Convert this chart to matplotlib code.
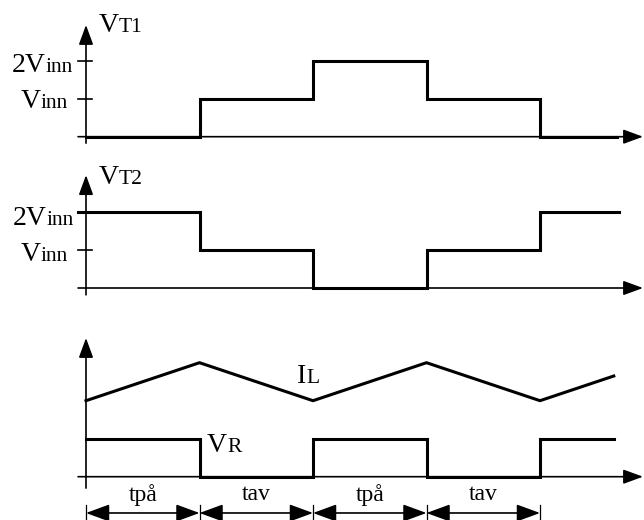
import matplotlib
matplotlib.use("Agg")
import matplotlib.pyplot as plt
import matplotlib.transforms as mtransforms

# waveform data (time in switching periods, levels in units of Vinn)
vt1_t = [0, 1, 2, 3, 4, 4.68]
vt1_v = [0, 1, 2, 1, 0, 0]

vt2_t = [-0.07, 1, 2, 3, 4, 4.70]
vt2_v = [2, 1, 0, 1, 2, 2]

il_t = [0, 1, 2, 3, 4, 4.65]
il_v = [2, 3, 2, 3, 2, 2.65]

vr_t = [0, 1, 2, 3, 4, 4.65]
vr_v = [1, 0, 1, 0, 1, 1]

interval_edges = [0, 1, 2, 3, 4]
interval_labels = ["tpå", "tav", "tpå", "tav"]
level_ticks = [1, 2]

W, H, DPI = 644, 520, 100
X0, DX = 86, 113.5    # pixel of t=0, pixels per period
DY = 38               # pixels per level unit
FONT = "Liberation Serif"
BIG, SMALL = 20, 15.5

fig = plt.figure(figsize=(W / DPI, H / DPI), dpi=DPI)
renderer = fig.canvas.get_renderer()


def make_panel(base_px):
    ax = fig.add_axes([0, 0, 1, 1])
    ax.set_xlim(-X0 / DX, (W - X0) / DX)
    ax.set_ylim((base_px - H) / DY, base_px / DY)
    ax.axis("off")
    ax.patch.set_alpha(0)
    return ax


def arrow(ax, tail, tip, style="-|>", lw=1.2, scale=20):
    ax.annotate("", xy=tip, xytext=tail,
                arrowprops=dict(arrowstyle=style + ",head_length=0.6,head_width=0.22",
                                mutation_scale=scale, lw=lw, color="black",
                                shrinkA=0, shrinkB=0))


def axes_lines(ax, top, bottom):
    arrow(ax, (0, bottom), (0, top))
    arrow(ax, (-0.07, 0), ((W - 1 - X0) / DX, 0))


def label(ax, x, y, big, small, ha="left"):
    # big letter + smaller suffix on the same baseline
    if ha == "left":
        t1 = ax.text(x, y, big, fontsize=BIG, family=FONT, ha="left", va="baseline")
        w = t1.get_window_extent(renderer).width
        tr = mtransforms.offset_copy(ax.transData, fig, x=w, y=0, units="dots")
        ax.text(x, y, small, fontsize=SMALL, family=FONT, ha="left", va="baseline", transform=tr)
    else:
        t2 = ax.text(x, y, small, fontsize=SMALL, family=FONT, ha="right", va="baseline")
        w = t2.get_window_extent(renderer).width
        tr = mtransforms.offset_copy(ax.transData, fig, x=-w, y=0, units="dots")
        ax.text(x, y, big, fontsize=BIG, family=FONT, ha="right", va="baseline", transform=tr)


# ---- panel 1: VT1
ax1 = make_panel(136.7)
axes_lines(ax1, 2.94, -0.17)
for lv in level_ticks:
    ax1.plot([-0.07, 0.053], [lv, lv], color="black", lw=1.2)
ax1.plot(vt1_t, vt1_v, drawstyle="steps-post", color="black", lw=2.2, solid_joinstyle="miter")
label(ax1, 0.115, 2.76, "V", "T1")
label(ax1, -0.115, 1.70, "2V", "inn", ha="right")
label(ax1, -0.16, 0.75, "V", "inn", ha="right")

# ---- panel 2: VT2
ax2 = make_panel(288)
axes_lines(ax2, 2.97, -0.18)
for lv in level_ticks:
    ax2.plot([-0.07, 0.053], [lv, lv], color="black", lw=1.2)
ax2.plot(vt2_t, vt2_v, drawstyle="steps-post", color="black", lw=2.2, solid_joinstyle="miter")
label(ax2, 0.115, 2.74, "V", "T2")
label(ax2, -0.11, 1.66, "2V", "inn", ha="right")
label(ax2, -0.16, 0.70, "V", "inn", ha="right")

# ---- panel 3: IL and VR
ax3 = make_panel(476.7)
axes_lines(ax3, 3.65, -0.3)
ax3.plot(il_t, il_v, color="black", lw=2.2)
ax3.plot(vr_t, vr_v, drawstyle="steps-post", color="black", lw=2.2, solid_joinstyle="miter")
label(ax3, 1.86, 2.47, "I", "L")
label(ax3, 1.066, 0.65, "V", "R")

# interval dimensions
for e in interval_edges:
    ax3.plot([e, e], [-0.75, -1.2], color="black", lw=0.9)
for i, lab in enumerate(interval_labels):
    a, b = interval_edges[i], interval_edges[i + 1]
    arrow(ax3, (a, -0.955), (b, -0.955), style="<|-|>", lw=1.2, scale=24)
    ax3.text((a + b) / 2, -0.48, lab, fontsize=17, family=FONT, ha="center", va="center")

fig.savefig("out.png", dpi=DPI)
